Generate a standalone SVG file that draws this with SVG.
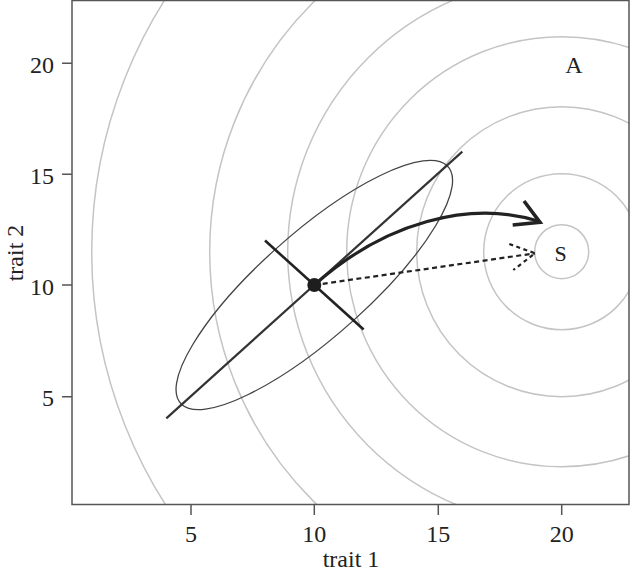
<svg xmlns="http://www.w3.org/2000/svg" width="632" height="572" viewBox="0 0 632 572">
<style>
  text { font-family: "Liberation Serif", "Times New Roman", serif; fill: #222; }
  .lab { font-size: 24px; }
  .contour { fill: none; stroke: #c4c4c4; stroke-width: 1.5; }
  .axis { fill: none; stroke: #555; stroke-width: 1.5; }
</style>
<defs>
  <clipPath id="plot"><rect x="72" y="0.5" width="557" height="504"/></clipPath>
</defs>
<rect width="632" height="572" fill="#fff"/>
<g id="contours" clip-path="url(#plot)">
  <circle class="contour" cx="561.7" cy="251.7" r="27"/>
  <circle class="contour" cx="561.7" cy="251.7" r="78"/>
  <circle class="contour" cx="561.7" cy="251.7" r="145"/>
  <circle class="contour" cx="561.7" cy="251.7" r="215"/>
  <circle class="contour" cx="561.7" cy="251.7" r="274"/>
  <circle class="contour" cx="561.7" cy="251.7" r="352"/>
  <circle class="contour" cx="561.7" cy="251.7" r="470"/>
</g>
<g id="axes">
  <rect class="axis" x="72" y="0.5" width="557" height="504"/>
  <path class="axis" d="M191,505V515 M314.3,505V515 M438.3,505V515 M561.7,505V515 M62,63.3H72 M62,174.3H72 M62,285H72 M62,396.7H72"/>
  <text class="lab" x="191" y="542" text-anchor="middle">5</text>
  <text class="lab" x="314.3" y="542" text-anchor="middle">10</text>
  <text class="lab" x="438.3" y="542" text-anchor="middle">15</text>
  <text class="lab" x="561.7" y="542" text-anchor="middle">20</text>
  <text class="lab" x="54" y="73" text-anchor="end">20</text>
  <text class="lab" x="54" y="184" text-anchor="end">15</text>
  <text class="lab" x="54" y="295" text-anchor="end">10</text>
  <text class="lab" x="54" y="406" text-anchor="end">5</text>
  <text class="lab" x="351" y="566.5" text-anchor="middle">trait 1</text>
  <text class="lab" transform="translate(23,253) rotate(-90)" text-anchor="middle">trait 2</text>
</g>
<g id="G-matrix">
  <g transform="matrix(24.67 0 0 -22.23 67.6 507.3)">
    <ellipse cx="10" cy="10" rx="7.6" ry="2.25" transform="rotate(45 10 10)" fill="none" stroke="#444" stroke-width="1.3" vector-effect="non-scaling-stroke"/>
  </g>
  <line x1="166.3" y1="418.4" x2="462.3" y2="151.6" stroke="#333" stroke-width="2.2"/>
  <line x1="265" y1="240.5" x2="363.6" y2="329.5" stroke="#222" stroke-width="2.6"/>
</g>
<g id="connectors">
  <path d="M314.3,285 C385,222 470,200 538,221" fill="none" stroke="#222" stroke-width="3.2"/>
  <polyline points="524,201 540,222.3 512.7,225" fill="none" stroke="#222" stroke-width="3.6" stroke-linejoin="miter"/>
  <line x1="314.3" y1="285" x2="535" y2="253.3" stroke="#222" stroke-width="2.2" stroke-dasharray="5 3.5"/>
  <polyline points="509.3,244 535,253.3 513.3,270" fill="none" stroke="#222" stroke-width="2.2" stroke-dasharray="4 3.5"/>
</g>
<g id="mean">
  <circle cx="314.3" cy="285" r="7" fill="#1e1e1e"/>
</g>
<g id="label-A">
  <text class="lab" x="573.8" y="73.3" text-anchor="middle">A</text>
</g>
<g id="label-S">
  <text x="560.7" y="261" font-size="22" text-anchor="middle">S</text>
</g>
</svg>
